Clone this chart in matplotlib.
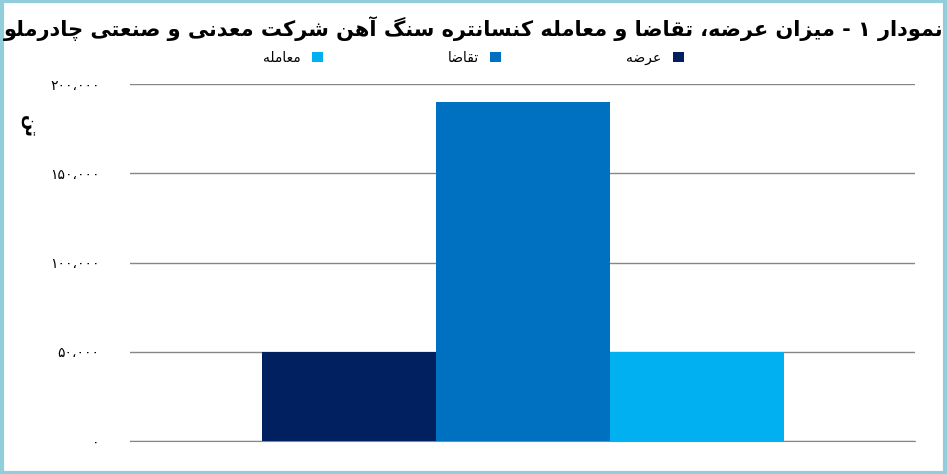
import matplotlib
matplotlib.use("Agg")
import matplotlib.pyplot as plt
from matplotlib.patches import Rectangle

title_text = "نمودار ۱ - میزان عرضه، تقاضا و معامله کنسانتره سنگ آهن شرکت معدنی و صنعتی چادرملو"
series_names = ["عرضه", "تقاضا", "معامله"]
series_values = [50000, 190000, 50000]
colors = ["#002060", "#0070C0", "#00B0F0"]
tick_values = [0, 50000, 100000, 150000, 200000]
tick_labels = ["۰", "۵۰،۰۰۰", "۱۰۰،۰۰۰", "۱۵۰،۰۰۰", "۲۰۰،۰۰۰"]
ylabel_text = "تن"

# minimal Persian shaping: char -> (iso, fin, ini, med); ini/med None = non-dual-joining
FORMS = {
    'ا': (0xFE8D, 0xFE8E, None, None), 'آ': (0xFE81, 0xFE82, None, None),
    'ت': (0xFE95, 0xFE96, 0xFE97, 0xFE98), 'چ': (0xFB7A, 0xFB7B, 0xFB7C, 0xFB7D),
    'د': (0xFEA9, 0xFEAA, None, None), 'ر': (0xFEAD, 0xFEAE, None, None),
    'ز': (0xFEAF, 0xFEB0, None, None), 'س': (0xFEB1, 0xFEB2, 0xFEB3, 0xFEB4),
    'ش': (0xFEB5, 0xFEB6, 0xFEB7, 0xFEB8), 'ص': (0xFEB9, 0xFEBA, 0xFEBB, 0xFEBC),
    'ض': (0xFEBD, 0xFEBE, 0xFEBF, 0xFEC0), 'ع': (0xFEC9, 0xFECA, 0xFECB, 0xFECC),
    'ق': (0xFED5, 0xFED6, 0xFED7, 0xFED8), 'ک': (0xFB8E, 0xFB8F, 0xFB90, 0xFB91),
    'گ': (0xFB92, 0xFB93, 0xFB94, 0xFB95), 'ل': (0xFEDD, 0xFEDE, 0xFEDF, 0xFEE0),
    'م': (0xFEE1, 0xFEE2, 0xFEE3, 0xFEE4), 'ن': (0xFEE5, 0xFEE6, 0xFEE7, 0xFEE8),
    'ه': (0xFEE9, 0xFEEA, 0xFEEB, 0xFEEC), 'و': (0xFEED, 0xFEEE, None, None),
    'ی': (0xFBFC, 0xFBFD, 0xFBFE, 0xFBFF),
}

def shape(s):
    out = []
    n = len(s)
    for i, c in enumerate(s):
        if c not in FORMS:
            out.append(c)
            continue
        p = s[i - 1] if i > 0 else None
        nx = s[i + 1] if i < n - 1 else None
        jp = p in FORMS and FORMS[p][2] is not None
        jn = nx in FORMS and FORMS[c][2] is not None
        f = FORMS[c]
        if jp and jn:
            code = f[3]
        elif jp:
            code = f[1]
        elif jn:
            code = f[2]
        else:
            code = f[0]
        out.append(chr(code))
    return "".join(out)[::-1]

plt.rcParams['font.family'] = ['DejaVu Sans']
fig = plt.figure(figsize=(9.47, 4.74), dpi=100)
fig.patches.append(Rectangle((0.002, 0.003), 0.996, 0.994, transform=fig.transFigure,
                             fill=False, edgecolor="#92CDDC", linewidth=3))
ax = fig.add_axes([130/947, 1 - 441/474, 785/947, 357/474])
x = [0, 1, 2]
bars = []
for i in range(3):
    b = ax.bar(x[i], series_values[i], width=1.0, color=colors[i], label=shape(series_names[i]), zorder=3)
    bars.append(b)
ax.set_xlim(-1.26, 3.25)
ax.set_ylim(0, 200000)
ax.set_yticks(tick_values)
ax.set_yticklabels(tick_labels, fontsize=10)
ax.yaxis.grid(True, color="#868686", linewidth=1, zorder=0)
ax.set_xticks([])
for s in ["top", "right", "left"]:
    ax.spines[s].set_visible(False)
ax.spines["bottom"].set_color("#868686")
ax.tick_params(axis="y", length=0, pad=22)
ax.set_ylabel(shape(ylabel_text), fontsize=13, fontweight="bold", rotation=-90, labelpad=20)
ax.yaxis.set_label_coords(-0.14, 0.88)
fig.text(0.5, 0.94, shape(title_text), ha="center", va="center", fontsize=15, fontweight="bold")
fig.legend(handles=[b[0] for b in bars[::-1]], labels=[shape(n) for n in series_names[::-1]],
           loc="center", bbox_to_anchor=(0.5, 0.878), ncol=3, frameon=False, fontsize=10,
           handlelength=0.8, handleheight=0.8, columnspacing=9, markerfirst=False)
fig.savefig("out.png", dpi=100)
